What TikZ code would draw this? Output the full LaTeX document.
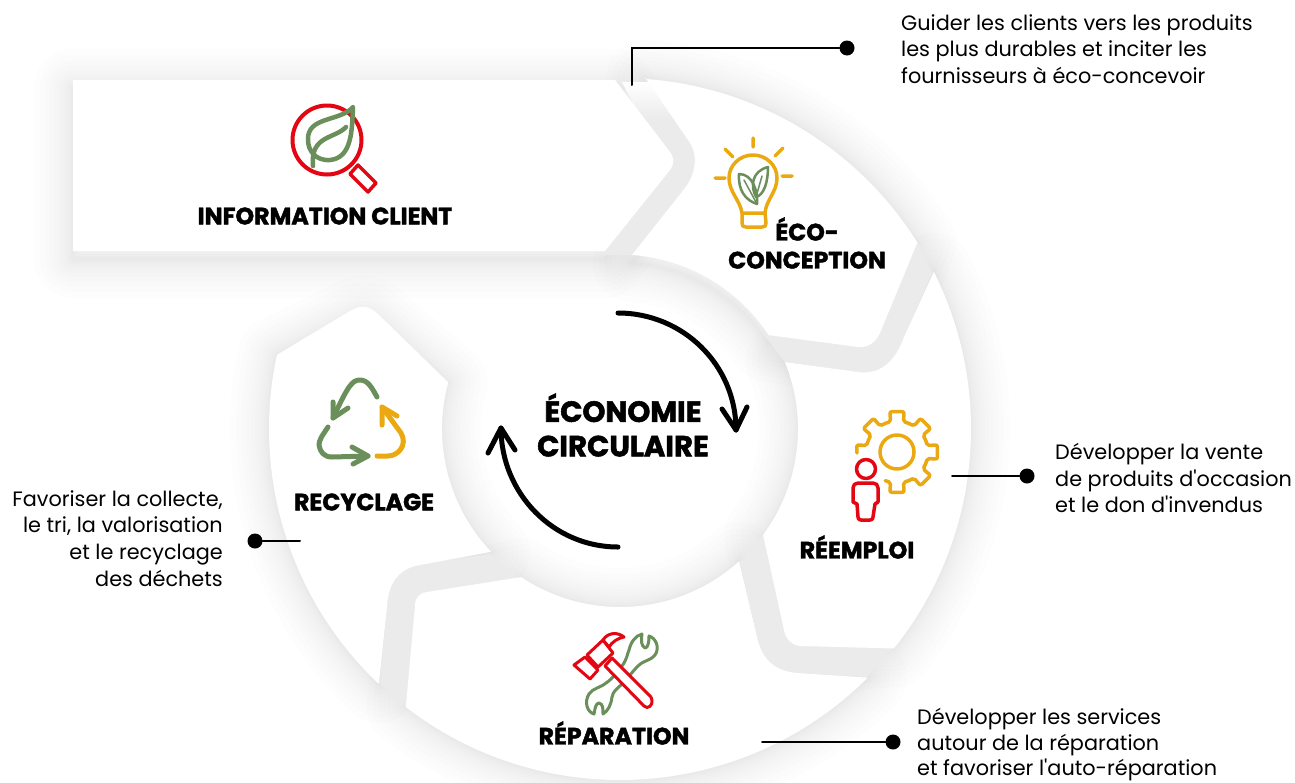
\documentclass[tikz,border=0pt]{standalone}
\usepackage{fontspec}
\usetikzlibrary{calc}
\setmainfont{Poppins}
\newfontfamily\bodyf[Ligatures=ResetAll]{Poppins}
\newfontfamily\headf[BoldFeatures={FakeBold=1.8}]{Poppins}
\definecolor{bandg}{HTML}{EBEBEB}
\definecolor{gr}{HTML}{6A8F5A}
\definecolor{yel}{HTML}{EAA911}
\definecolor{rd}{HTML}{E30613}
\tikzset{
  body/.style={inner sep=0pt,font=\bodyf\fontsize{20.8}{26.7}\selectfont,text=black},
  head/.style={inner sep=0pt,align=center,font=\headf\bfseries\fontsize{23.7}{28}\selectfont,text=black},
  bighead/.style={inner sep=0pt,align=center,font=\headf\bfseries\fontsize{29.2}{34.5}\selectfont,text=black},
  leader/.style={draw=black,line width=2pt,line cap=round},
  dotn/.style={circle,fill=black,inner sep=0pt,minimum size=15pt},
  arcarrow/.style={draw=black,line width=5pt,line cap=round,line join=round},
  seg/.style={fill=white,draw=none},
  band/.style={fill=bandg,draw=none},
  iconr/.style={draw=rd,line width=3.5pt,line cap=round,line join=round},
  icong/.style={draw=gr,line width=3.5pt,line cap=round,line join=round},
  icony/.style={draw=yel,line width=3.5pt,line cap=round,line join=round},
  recg/.style={draw=gr,line width=5pt,line cap=round,line join=round},
  recy/.style={draw=yel,line width=5pt,line cap=round,line join=round},
}
\def\Ro{351}\def\Ri{178}
\def\pInfo{(73,80) -- (615,80) -- (667,148) .. controls (675,158) and (675,162) .. (670,170) -- (605,251) -- (73,251) -- cycle}
\def\pEco{(645,77) -- (688,140) .. controls (698,153) and (697,172) .. (685,188) -- (632,255) arc[start angle=-86,end angle=-33.2,radius=\Ri] -- (858,347) .. controls (868,348) and (876,342) .. (880,333) -- ($(c)+(-32.1:\Ro)$) arc[start angle=-32.1,end angle=-85.9,radius=\Ro] -- cycle}
\def\pRee{($(c)+(-26.6:\Ro)$) arc[start angle=-26.6,end angle=38.7,radius=\Ro] -- (800,646) .. controls (792,645) and (786,640) .. (784,630) -- ($(c)+(36.5:\Ri)$) arc[start angle=36.5,end angle=-22.1,radius=\Ri] -- (858,372) .. controls (880,375) and (895,362) .. (904,337) -- cycle}
\def\pRep{($(c)+(48:\Ri)$) arc[start angle=48,end angle=123.7,radius=\Ri] -- (427,592) .. controls (419,593) and (415,598) .. (415,606) -- ($(c)+(127.6:\Ro)$) arc[start angle=127.6,end angle=45.1,radius=\Ro] -- (797,673) .. controls (775,671) and (762,660) .. (757,637) -- cycle}
\def\pRec{($(c)+(133.4:\Ro)$) arc[start angle=133.4,end angle=192.2,radius=\Ro] -- (350,311) .. controls (362,304) and (369,306) .. (378,314) -- ($(c)+(195.2:\Ri)$) arc[start angle=195.2,end angle=136.4,radius=\Ri] -- (420,565) .. controls (400,568) and (388,582) .. (387,607) -- cycle}
\newcommand\softsh[1]{\foreach \w in {3,6,10,15,21,28,36,45,55,66,78}{\draw[black,opacity=.007,line width=\w pt,line join=round,yshift=-8pt] #1;}}
\begin{document}
\begin{tikzpicture}[x=1pt,y=-1pt]
\useasboundingbox (0,0) rectangle (1295,782);
\clip (0,0) rectangle (1295,782);
\fill[white] (0,0) rectangle (1295,782);
\coordinate (c) at (620,429);
% soft shadows
\softsh{\pRec}
\softsh{\pRep}
\softsh{\pRee}
\softsh{\pEco}
\softsh{\pInfo}
% gaps
\path[band] (626,84) -- (650,84) -- (692,140) .. controls (704,156) and (704,174) .. (692,192) -- (640,255) -- (600,255) -- cycle;
\shade[top color=white,bottom color=bandg] (622,82) -- (650,82) -- (680,118) -- (640,118) -- cycle;
\path[band] (760,330) -- (918,242) -- (932,273) -- (904,337) .. controls (895,362) and (880,375) .. (858,372) -- (785,362) -- cycle;
\path[band] (763,535) -- (893,648) -- (867,677) -- (797,673) .. controls (775,671) and (762,660) .. (757,637) -- (740,562) -- cycle;
\path[band] (520,579) -- (406,707) -- (380,683) -- (387,607) .. controls (388,582) and (400,568) .. (420,565) -- (490,554) -- cycle;
% segments
\path[seg] \pRec;
\path[seg] \pRep;
\path[seg] \pRee;
\path[seg] \pEco;
\path[seg] \pInfo;
% central arrows
\coordinate (a1s) at (618,313);
\coordinate (a1e) at (736,430);
\coordinate (a2s) at (618,547);
\coordinate (a2e) at (501,428);
\draw[arcarrow] (a1s) .. controls (683,313) and (736,365) .. (a1e);
\draw[arcarrow] (722,409) -- (a1e) -- (747,407);
\draw[arcarrow] (a2s) .. controls (553,547) and (501,493) .. (a2e);
\draw[arcarrow] (488,453) -- (a2e) -- (515,450);
% labels
\node[bighead] (centre) at (623,425) {ÉCONOMIE\\CIRCULAIRE};
\node[head] (info) at (325,216) {INFORMATION CLIENT};
\node[head] (eco) at (807,243) {ÉCO-\\CONCEPTION};
\node[head] (ree) at (857,547) {RÉEMPLOI};
\node[head] (rep) at (614,733) {RÉPARATION};
\node[head] (rec) at (364,502) {RECYCLAGE};
% body text
\node[body,anchor=north west,align=left] (t1) at (901,14) {Guider les clients vers les produits\\les plus durables et inciter les\\fournisseurs à éco-concevoir};
\node[body,anchor=north west,align=left] (t2) at (1055,443) {Développer la vente\\de produits d'occasion\\et le don d'invendus};
\node[body,anchor=north west,align=left,font=\bodyf\fontsize{20.8}{25.5}\selectfont] (t3) at (917,708.5) {Développer les services\\autour de la réparation\\et favoriser l'auto-réparation};
\node[body,anchor=north east,align=right] (t4) at (223,490) {Favoriser la collecte,\\le tri, la valorisation\\et le recyclage\\des déchets};
% leaders
\node[dotn] (d1) at (847,48) {};
\node[dotn] (d2) at (1027,476) {};
\node[dotn] (d3) at (893,742) {};
\node[dotn] (d4) at (255,541) {};
\coordinate (l1) at (632,85);
\coordinate (l2) at (952,476);
\coordinate (l3) at (762,742);
\coordinate (l4) at (300,541);
\draw[leader] (l1) |- (d1);
\draw[leader] (l2) -- (d2);
\draw[leader] (l3) -- (d3);
\draw[leader] (l4) -- (d4);
% magnifier
\draw[draw=rd,line width=4pt] (327,140) circle[radius=34.5];
\draw[iconr,line width=3.5pt] (358,165) -- (376,183) -- (368,192) -- (350,174) -- cycle;
\draw[icong,line width=4.5pt] (353,107) .. controls (340,122) and (307,116) .. (308,140) .. controls (308,150) and (315,161) .. (330,160) .. controls (352,158) and (352,130) .. (353,107) -- cycle;
\draw[icong,line width=4.5pt] (346,127) .. controls (335,139) and (310,135) .. (313,166);
% bulb
\draw[icony] (742,213) .. controls (740,200) and (729,192) .. (729,178) .. controls (729,165) and (740,155) .. (753,155) .. controls (766,155) and (777,165) .. (777,178) .. controls (777,192) and (766,200) .. (765,213) -- cycle;
\draw[icony] (742,213) -- (742,223) .. controls (742,226) and (743,227) .. (746,227) -- (762,227) .. controls (765,227) and (766,226) .. (766,223) -- (765,213);
\draw[icony] (753,138) -- (753,147) (725,149) -- (733,157) (775,156) -- (783,148) (715,178) -- (725,178) (782,176) -- (792,176);
\draw[icong,line width=2.5pt] (739,174) .. controls (752,174) and (758,190) .. (757,204) .. controls (745,200) and (738,190) .. (739,174) -- cycle;
\draw[icong,line width=2.5pt] (768,167) .. controls (768,182) and (764,195) .. (756,197) .. controls (750,186) and (752,171) .. (768,167) -- cycle;
\draw[icong,line width=1.5pt] (744,180) -- (757,204) (762,176) -- (756,197);
% gear
\coordinate (g) at (897,452);
\draw[icony] (g) circle[radius=17];
\foreach \a in {-135,-90,-45,0,45,90}{
  \draw[icony,rounded corners=2pt] ($(g)+(\a-22.5:31)$) -- ($(g)+(\a-12:31)$) -- ($(g)+(\a-10:41)$) -- ($(g)+(\a+10:41)$) -- ($(g)+(\a+12:31)$) -- ($(g)+(\a+22.5:31)$);
}
\draw[icony,rounded corners=2pt] ($(g)+(-157.5:31)$) -- ($(g)+(-168:31)$) -- ($(g)+(-170:41)$) -- (857,453);
% person
\draw[iconr] (866,469) circle[radius=9.5];
\draw[iconr] (858,483) -- (873,483) .. controls (876,483) and (878,485) .. (878,488) -- (878,502) -- (875,504) -- (873,517) .. controls (873,519) and (872,520) .. (870,520) -- (861,520) .. controls (859,520) and (858,519) .. (858,517) -- (857,504) -- (853,502) -- (853,488) .. controls (853,485) and (855,483) .. (858,483) -- cycle;
% recycle
\draw[recg] (377,397) .. controls (372,388) and (368,380) .. (360,380) .. controls (352,380) and (348,386) .. (333,418);
\draw[recg] (333,402) -- (333,418) -- (348,408);
\draw[recg] (328,427) .. controls (322,436) and (319,440) .. (319,445) .. controls (320,452) and (324,457) .. (332,457) -- (368,456);
\draw[recg] (352,447) -- (368,456) -- (353,464);
\draw[recy] (377,456) -- (388,456) .. controls (398,456) and (408,445) .. (401,433) -- (382,407);
\draw[recy] (382,425) -- (382,407) -- (397,416);
% wrench
\draw[icong,fill=white,line width=3pt] (642,634) .. controls (641,640) and (641,646) .. (645,648) .. controls (648,648) and (649,642) .. (649,636) .. controls (656,638) and (660,648) .. (655,655) .. controls (650,661) and (644,660) .. (638,666) .. controls (632,672) and (628,678) .. (622,684) .. controls (617,689) and (613,691) .. (612,697) .. controls (611,705) and (608,711) .. (603,714) .. controls (603,708) and (603,704) .. (599,703) .. controls (596,703) and (595,708) .. (594,714) .. controls (587,712) and (584,702) .. (589,694) .. controls (593,688) and (600,688) .. (606,683) .. controls (612,679) and (618,672) .. (622,666) .. controls (627,659) and (627,655) .. (629,650) .. controls (631,642) and (635,636) .. (642,634) -- cycle;
% hammer
\draw[iconr,fill=white,line width=3pt] (605,666) -- (644,706) .. controls (648,710) and (653,705) .. (652,700) .. controls (652,697) and (650,696) .. (648,694) -- (612,658) -- cycle;
\draw[iconr,fill=white,line width=3pt] (587,655) -- (603,640) -- (613,653) -- (598,667) -- cycle;
\draw[iconr,fill=white,line width=3pt] (574,665) -- (585,657) -- (598,670) -- (590,679) -- cycle;
\draw[iconr,fill=white,line width=3pt] (603,640) .. controls (608,632) and (618,632) .. (624,637) .. controls (618,638) and (612,642) .. (609,647) -- cycle;
\end{tikzpicture}
\end{document}
